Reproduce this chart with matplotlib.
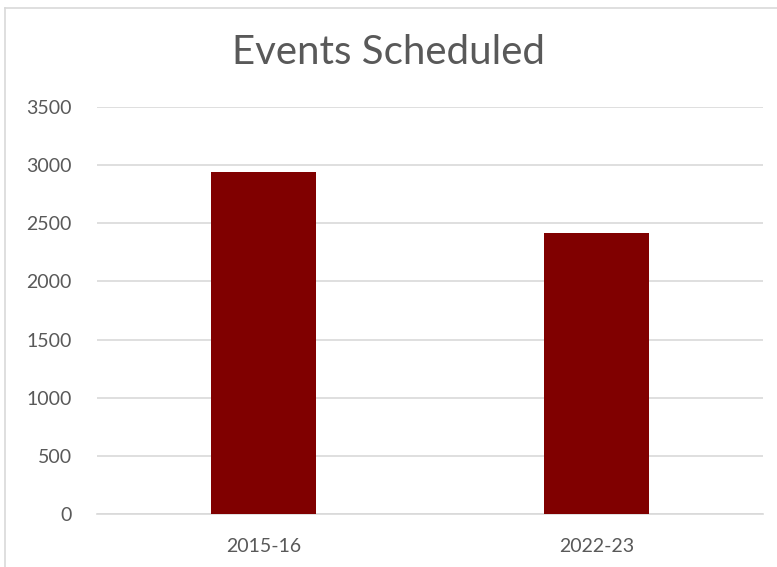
import matplotlib
matplotlib.use("Agg")
import matplotlib.pyplot as plt
from matplotlib.lines import Line2D

categories = ["2015-16", "2022-23"]
events = [2940, 2420]
y_ticks = [0, 500, 1000, 1500, 2000, 2500, 3000, 3500]

BAR_COLOR = "#800000"
TEXT_COLOR = "#595959"
GRID_COLOR = "#d9d9d9"

plt.rcParams["font.family"] = ["Lato", "DejaVu Sans"]

fig = plt.figure(figsize=(7.77, 5.67), dpi=100)
ax = fig.add_axes([97 / 777, 53 / 567, 666 / 777, 407 / 567])

x = list(range(len(categories)))
ax.bar(x, events, width=0.315, color=BAR_COLOR, zorder=3)

ax.set_xlim(-0.5, len(categories) - 0.5)
ax.set_ylim(0, 3500)
ax.set_yticks(y_ticks)
ax.set_xticks(x)
ax.set_xticklabels(categories)

ax.yaxis.grid(True, color=GRID_COLOR, linewidth=1.2, zorder=0)
for side in ["top", "right", "left"]:
    ax.spines[side].set_visible(False)
ax.spines["bottom"].set_color(GRID_COLOR)
ax.spines["bottom"].set_linewidth(1.2)
ax.tick_params(axis="both", length=0, colors=TEXT_COLOR, labelsize=14)
ax.tick_params(axis="y", pad=18)
ax.tick_params(axis="x", pad=17)

fig.text(0.5, 1 - 52 / 567, "Events Scheduled", ha="center", va="center",
         fontsize=29, color=TEXT_COLOR)

# chart frame (cropped on the right and bottom)
fig.add_artist(Line2D([5 / 777, 1], [1 - 8 / 567] * 2, transform=fig.transFigure,
                      color=GRID_COLOR, linewidth=1.2))
fig.add_artist(Line2D([5 / 777] * 2, [0, 1 - 8 / 567], transform=fig.transFigure,
                      color=GRID_COLOR, linewidth=1.2))

fig.savefig("out.png", dpi=100)
